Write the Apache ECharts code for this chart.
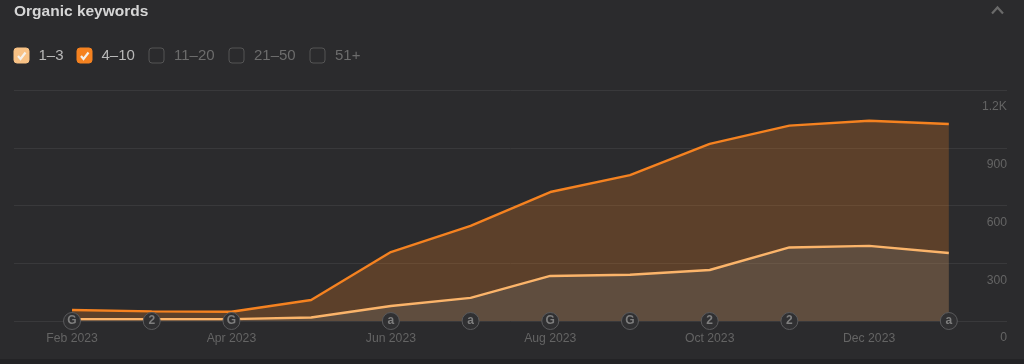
<!DOCTYPE html>
<html><head><meta charset="utf-8">
<style>html,body{margin:0;padding:0;background:#2b2b2d}#c{width:1024px;height:364px}</style>
<script src="https://cdn.jsdelivr.net/npm/echarts@6/dist/echarts.min.js"></script>
</head><body><div id="c"></div>
<script>
const months = ['Feb 2023','Mar 2023','Apr 2023','May 2023','Jun 2023','Jul 2023','Aug 2023','Sep 2023','Oct 2023','Nov 2023','Dec 2023','Jan 2024'];
const monthTicks = [0,2,4,6,8,10];
const pos4to10 = [57,50,48,109,358,494,670,758,920,1015,1040,1023];
const pos1to3 = [10,10,10,18,78,120,234,240,265,382,390,353];
const badges = ['G','2','G','','a','a','G','G','2','2','','a'];
const legendItems = ['1–3','4–10','11–20','21–50','51+'];
const legendOn = [true,true,false,false,false];
const legendX = [14,77,149,229,310];
const font = 'Liberation Sans, Arial, sans-serif';
const toPts = a => a.map((v,i)=>[i,v]);
const check = (x,y)=>({type:'polyline',shape:{points:[[x+4,y+8],[x+6.5,y+11],[x+11.5,y+4.5]]},style:{stroke:'#f4f0ea',lineWidth:2.2,fill:'none'},silent:true});
const graphics = [
  {type:'rect',shape:{x:0,y:359,width:1024,height:5},style:{fill:'#232325'},silent:true},
  {type:'text',x:14,y:4,style:{text:'Organic keywords',fill:'#d6d6d6',font:'bold 15.5px '+font}},
  {type:'polyline',shape:{points:[[992,13.5],[997.5,7.5],[1003,13.5]]},style:{stroke:'#6a6a6a',lineWidth:2.2,fill:'none'}}
];
legendItems.forEach((t,i)=>{
  const x=legendX[i], y=48, on=legendOn[i];
  const fill = i===0?'#f8c285':(i===1?'#f58220':'none');
  graphics.push({type:'rect',shape:{x:x,y:y,width:15,height:15,r:3},style:{fill:fill,stroke:on?fill:'#555',lineWidth:1}});
  if(on) graphics.push(check(x,y));
  graphics.push({type:'text',x:i<2?x+24.5:x+25,y:y,style:{text:t,fill:on?'#b8b8b8':'#6c6c6c',font:'15px '+font}});
});
const chart = echarts.init(document.getElementById('c'),null,{renderer:'canvas'});
chart.setOption({
  backgroundColor:'#2b2b2d',
  animation:false,
  grid:{left:14,right:17,top:90,bottom:43,containLabel:false},
  xAxis:{type:'value',min:-0.728,max:11.73,
    axisLine:{show:false},axisTick:{show:false},splitLine:{show:false},
    axisLabel:{customValues:monthTicks,color:'#646464',fontSize:12.2,fontFamily:font,margin:11.5,
      formatter:v=>months[Math.round(v)]}},
  yAxis:{type:'value',position:'right',min:0,max:1200,interval:300,
    axisLine:{show:false},axisTick:{show:false},
    splitLine:{lineStyle:{color:'#39393b',width:1}},
    axisLabel:{inside:true,margin:0,color:'#646464',fontSize:12.2,fontFamily:font,verticalAlign:'top',padding:[11,0,0,0],
      formatter:v=>v>=1000?(v/1000).toFixed(1)+'K':String(v)}},
  graphic:graphics,
  series:[
    {name:'4–10',type:'line',data:toPts(pos4to10),symbol:'none',lineStyle:{color:'#f58220',width:2.4},
      areaStyle:{color:'rgba(245,130,32,0.35)'},z:2},
    {name:'1–3',type:'line',data:toPts(pos1to3),symbol:'none',lineStyle:{color:'#fbb46a',width:2.4},
      areaStyle:{color:'rgba(115,141,158,0.25)'},z:3},
    {name:'events',type:'scatter',clip:false,z:5,symbol:'circle',symbolSize:17,
      data:badges.map((b,i)=>[i,0,b]).filter(d=>d[2]),
      itemStyle:{color:'#303032',borderColor:'#5a5a5c',borderWidth:1,opacity:1},
      label:{show:true,position:'inside',formatter:p=>p.value[2],color:'#7e7e7e',fontSize:12,fontWeight:'bold',fontFamily:font}}
  ]
});
</script></body></html>
